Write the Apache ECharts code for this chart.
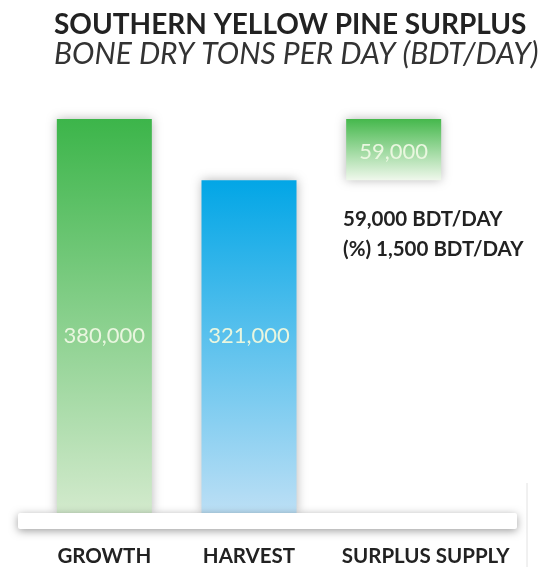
<!DOCTYPE html>
<html>
<head>
<meta charset="utf-8">
<script src="https://cdn.jsdelivr.net/npm/echarts@6/dist/echarts.min.js"></script>
<style>html,body{margin:0;padding:0;background:#fff;}#c{width:543px;height:567px;}</style>
</head>
<body>
<div id="c"></div>
<script>
var titleText = 'SOUTHERN YELLOW PINE SURPLUS';
var subtitleText = 'BONE DRY TONS PER DAY (BDT/DAY)';
var categories = ['GROWTH', 'HARVEST', 'SURPLUS SUPPLY'];
var growth = 380000;
var harvest = 321000;
var surplus = 59000;
var notes = ['59,000 BDT/DAY', '(%) 1,500 BDT/DAY'];

var FONT = 'Lato';
function fmt(v){ return v.toLocaleString('en-US'); }
function grad(top, bottom){
  return {type:'linear', x:0, y:0, x2:0, y2:1, colorStops:[{offset:0,color:top},{offset:1,color:bottom}]};
}
var shadow = {shadowBlur:10, shadowColor:'rgba(0,0,0,0.28)', shadowOffsetX:0, shadowOffsetY:0};

var chart = echarts.init(document.getElementById('c'));
chart.setOption({
  animation:false,
  backgroundColor:'#fff',
  title:{
    text:titleText, subtext:subtitleText, left:49, top:6, itemGap:0,
    textStyle:{fontFamily:FONT, fontSize:28, fontWeight:'bold', color:'#222'},
    subtextStyle:{fontFamily:FONT, fontSize:30, fontStyle:'italic', fontWeight:'normal', color:'#333'}
  },
  grid:{left:32, right:77, top:119, bottom:49},
  xAxis:{
    type:'category', data:categories,
    axisLine:{show:false}, axisTick:{show:false},
    axisLabel:{
      interval:0, hideOverlap:false,
      margin:32, fontFamily:FONT, fontSize:20.5, fontWeight:'bold', color:'#222',
      formatter:function(v, i){ return i === 2 ? '{s|' + v + '}' : v; },
      rich:{s:{fontFamily:FONT, fontSize:20.5, fontWeight:'bold', color:'#222', padding:[0,0,0,64]}}
    }
  },
  yAxis:{type:'value', min:0, max:growth, show:false, splitLine:{show:false}},
  series:[
    {
      type:'bar', stack:'s', barWidth:95,
      data:[
        {value:growth, itemStyle:Object.assign({color:grad('#3cb54a','#d3eacd')}, shadow)},
        {value:harvest, itemStyle:Object.assign({color:grad('#02a6e6','#bcdff5')}, shadow)},
        {value:harvest, itemStyle:{color:'rgba(0,0,0,0)'}, label:{show:false}}
      ],
      label:{show:true, position:'insideBottom', distance:167, fontFamily:FONT, fontSize:22, color:'#e9f6df',
        formatter:function(p){ return fmt(p.value); }}
    },
    {
      type:'bar', stack:'s', barWidth:95,
      data:[null, null,
        {value:surplus, itemStyle:Object.assign({color:grad('#45b84c','#f0f8ec')}, shadow)}],
      label:{show:true, position:'inside', offset:[0,2], fontFamily:FONT, fontSize:22, color:'#eaf7e0',
        formatter:function(p){ return fmt(p.value); }}
    }
  ],
  graphic:[
    {type:'rect', z:100, shape:{x:18, y:513, width:499, height:16, r:2},
      style:{fill:'#fff', shadowBlur:8, shadowColor:'rgba(0,0,0,0.38)', shadowOffsetY:2}},
    {type:'line', z:100, shape:{x1:527, y1:483, x2:527, y2:567}, style:{stroke:'#e2e2e2', lineWidth:1}},
    {type:'text', z:100, left:343, top:204,
      style:{text:notes.join('\n'), fontFamily:FONT, fontSize:20.5, fontWeight:'bold', fill:'#222', lineHeight:30}}
  ]
});
</script>
</body>
</html>
